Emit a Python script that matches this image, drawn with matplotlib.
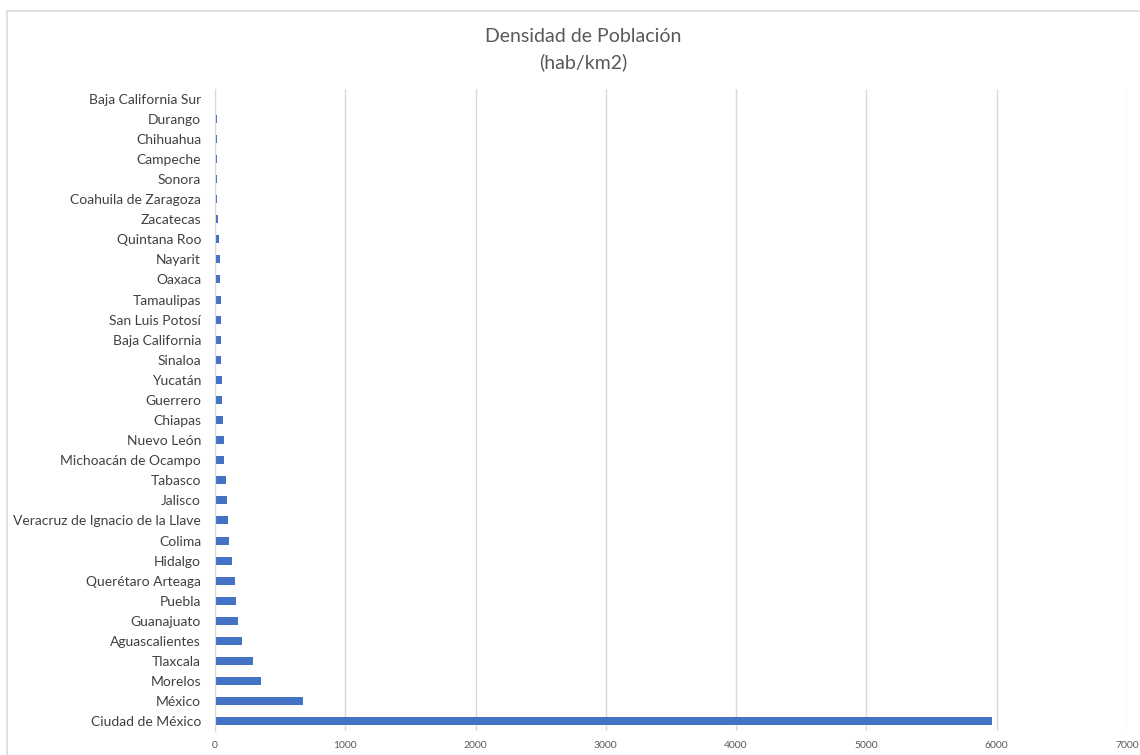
import matplotlib.pyplot as plt
from matplotlib.patches import Rectangle

# estados, de abajo hacia arriba (como en el grafico)
estados = ['Ciudad de México', 'México', 'Morelos', 'Tlaxcala', 'Aguascalientes',
           'Guanajuato', 'Puebla', 'Querétaro Arteaga', 'Hidalgo', 'Colima',
           'Veracruz de Ignacio de la Llave', 'Jalisco', 'Tabasco',
           'Michoacán de Ocampo', 'Nuevo León', 'Chiapas', 'Guerrero', 'Yucatán',
           'Sinaloa', 'Baja California', 'San Luis Potosí', 'Tamaulipas', 'Oaxaca',
           'Nayarit', 'Quintana Roo', 'Zacatecas', 'Coahuila de Zaragoza', 'Sonora',
           'Campeche', 'Chihuahua', 'Durango', 'Baja California Sur']
densidad = [5960, 672, 356, 290, 204, 176, 165, 155, 127, 109,
            99, 89, 88, 72, 72, 59, 53, 50,
            48, 46, 44, 43, 42, 41, 33, 21, 19, 16,
            15, 14, 13, 10]
xticks = [0, 1000, 2000, 3000, 4000, 5000, 6000, 7000]

plt.rcParams['font.family'] = ['Lato', 'DejaVu Sans']

fig = plt.figure(figsize=(11.4, 7.55), dpi=100)
fig.patches.append(Rectangle((7/1140, -0.1), 1.2, 1 - 11/755 + 0.1,
                             transform=fig.transFigure, fill=False,
                             edgecolor='#d9d9d9', linewidth=1.2))

ax = fig.add_axes([215/1140, 1 - 731.4/755, 912/1140, 642.8/755])
pos = range(len(estados))
ax.barh(pos, densidad, height=0.4, color='#4472C4', zorder=3)

ax.set_xlim(0, 7000)
ax.set_ylim(-0.5, len(estados) - 0.5)
ax.set_xticks(xticks)
ax.set_xticklabels([str(t) for t in xticks], fontsize=7.5, color='#595959')
ax.set_yticks(list(pos))
ax.set_yticklabels(estados, fontsize=10, color='#404040')
ax.tick_params(axis='both', length=0)
ax.tick_params(axis='y', pad=10)
ax.tick_params(axis='x', pad=7)
ax.grid(axis='x', color='#d9d9d9', linewidth=1)
for s in ['top', 'right', 'bottom']:
    ax.spines[s].set_visible(False)
ax.spines['left'].set_color('#d9d9d9')
ax.spines['left'].set_zorder(4)

fig.text(583/1140, 1 - 36/755, 'Densidad de Población', ha='center', va='center',
         fontsize=14, color='#595959')
fig.text(583/1140, 1 - 62/755, '(hab/km2)', ha='center', va='center',
         fontsize=14, color='#595959')

fig.savefig('out.png', dpi=100)
